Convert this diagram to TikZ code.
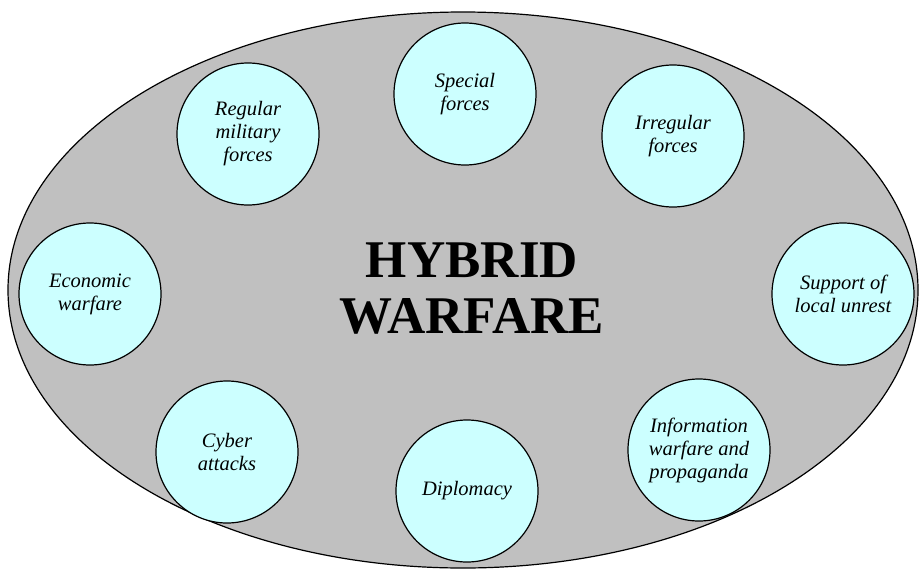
\documentclass[tikz,border=0pt]{standalone}
\usepackage{fontspec}
\setmainfont{Liberation Serif}
\definecolor{hwgray}{RGB}{192,192,192}
\definecolor{hwcyan}{RGB}{204,255,255}
\begin{document}
\begin{tikzpicture}[x=1pt, y=-1pt]
        \tikzstyle{circ}=[circle, draw, line width=1.2pt, fill=hwcyan, inner sep=0pt, minimum width=142pt, align=center, font=\fontsize{20.5}{23}\selectfont\itshape]
        \useasboundingbox (0,0) rectangle (921,571);

        \draw[line width=1.2pt, fill=hwgray] (463,290) ellipse [x radius=455, y radius=278];

        \node[inner sep=0pt, align=center, font=\fontsize{53}{56}\selectfont\bfseries] (hw) at (472,289) {HYBRID\\WARFARE};

        \node[circ] (sf)  at (465,94)  {Special\\forces};
        \node[circ] (rmf) at (248,134) {Regular\\military\\forces};
        \node[circ] (irf) at (673,136) {Irregular\\forces};
        \node[circ] (ew)  at (90,294)  {Economic\\warfare};
        \node[circ] (slu) at (843,294) {Support of\\local unrest};
        \node[circ] (ca)  at (227,452) {Cyber\\attacks};
        \node[circ] (dip) at (467,491) {Diplomacy};
        \node[circ] (iwp) at (699,450) {Information\\warfare and\\propaganda};
\end{tikzpicture}
\end{document}
